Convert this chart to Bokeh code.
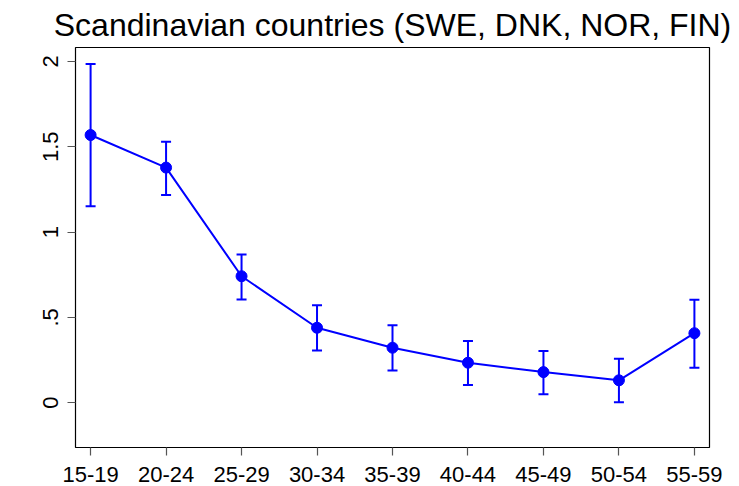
from bokeh.plotting import figure
from bokeh.models import (ColumnDataSource, Range1d, FixedTicker, Whisker, TeeHead, Title)
from bokeh.embed import file_html
from bokeh.resources import INLINE

# ---- data ----
age_groups = ["15-19", "20-24", "25-29", "30-34", "35-39", "40-44", "45-49", "50-54", "55-59"]
estimate = [1.569, 1.378, 0.741, 0.439, 0.322, 0.234, 0.179, 0.131, 0.407]
ci_upper = [1.985, 1.530, 0.868, 0.571, 0.454, 0.361, 0.302, 0.258, 0.603]
ci_lower = [1.151, 1.218, 0.605, 0.306, 0.189, 0.103, 0.049, 0.002, 0.205]
y_ticks = [0, 0.5, 1, 1.5, 2]
y_tick_labels = ["0", ".5", "1", "1.5", "2"]
title_text = "Scandinavian countries (SWE, DNK, NOR, FIN)"

FONT = "Liberation Sans"
BLUE = "#0000FF"

xs = list(range(len(age_groups)))
src = ColumnDataSource(dict(x=xs, y=estimate, upper=ci_upper, lower=ci_lower))

p = figure(width=739, height=486, output_backend="svg", toolbar_location=None,
           x_range=Range1d(-0.2, len(age_groups) - 1 + 0.2),
           y_range=Range1d(-0.263, 2.082),
           min_border_left=75, min_border_right=30, min_border_top=47, min_border_bottom=39)
p.title = None
p.add_layout(Title(text=title_text, align="center", text_font=FONT, text_font_size="32px",
                   text_font_style="normal", text_color="black", standoff=9), "above")

p.background_fill_color = "white"
p.border_fill_color = "white"
p.outline_line_color = "black"
p.outline_line_width = 1.2
p.xgrid.visible = False
p.ygrid.visible = False

# axes
p.xaxis.ticker = FixedTicker(ticks=xs)
p.xaxis.major_label_overrides = {i: g for i, g in zip(xs, age_groups)}
p.yaxis.ticker = FixedTicker(ticks=y_ticks)
p.yaxis.major_label_overrides = {t: l for t, l in zip(y_ticks, y_tick_labels)}
p.yaxis.major_label_orientation = "parallel"
for ax in (p.xaxis, p.yaxis):
    ax.axis_line_color = None
    ax.major_tick_line_color = "#555555"
    ax.major_tick_line_width = 1.2
    ax.major_tick_in = 0
    ax.major_tick_out = 8
    ax.minor_tick_line_color = None
    ax.major_label_text_font = FONT
    ax.major_label_text_font_size = "22px"
    ax.major_label_text_color = "black"
p.xaxis.major_label_text_line_height = 0.8
p.xaxis.major_label_standoff = 11
p.yaxis.major_label_standoff = 9

# error bars
wh = Whisker(base="x", upper="upper", lower="lower", source=src, dimension="height",
             line_color=BLUE, line_width=2,
             upper_head=TeeHead(size=10, line_color=BLUE, line_width=2),
             lower_head=TeeHead(size=10, line_color=BLUE, line_width=2), level="glyph")
p.add_layout(wh)

p.line("x", "y", source=src, line_color=BLUE, line_width=2)
p.scatter("x", "y", source=src, size=11, fill_color=BLUE, line_color=BLUE)

open("out.html", "w").write(file_html(p, INLINE))
